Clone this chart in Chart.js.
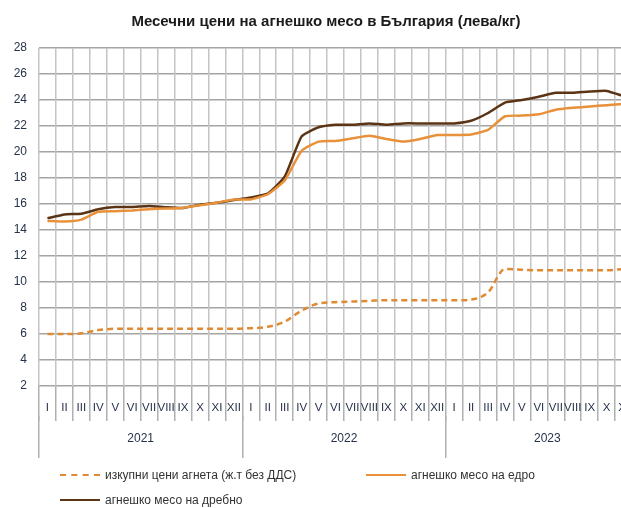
<!DOCTYPE html>
<html>
<head>
<meta charset="utf-8">
<script src="https://cdn.jsdelivr.net/npm/chart.js@4.4.1/dist/chart.umd.min.js"></script>
<style>
  html, body { margin: 0; padding: 0; background: #fff; overflow: hidden; }
  #frame { position: relative; width: 621px; height: 508px; overflow: hidden; }
  #wrap { position: absolute; left: 0; top: 0; width: 655px; height: 508px; }
  .leg { position: absolute; font: 12px 'Liberation Sans Narrow', 'Arial Narrow', 'Liberation Sans', sans-serif; color: #333; white-space: nowrap; }
  .leg span.line { display: inline-block; width: 40px; height: 0; vertical-align: middle; margin-right: 5px; position: relative; top: -1px; }
</style>
</head>
<body>
<div id="frame">
  <div id="wrap"><canvas id="myChart"></canvas></div>
  <div id="legend"></div>
</div>
<script>
const months = ['I','II','III','IV','V','VI','VII','VIII','IX','X','XI','XII'];
const years = ['2021','2022','2023'];

// изкупни цени агнета (ж.т без ДДС)
const purchase = [6.0,6.0,6.05,6.3,6.4,6.4,6.4,6.4,6.4,6.4,6.4,6.4,
                  6.45,6.55,6.95,7.8,8.35,8.45,8.5,8.55,8.6,8.6,8.6,8.6,
                  8.6,8.65,9.2,11.0,10.95,10.9,10.9,10.9,10.9,10.9,11.0,null];
// агнешко месо на едро
const wholesale = [14.7,14.65,14.8,15.4,15.45,15.5,15.6,15.65,15.7,15.9,16.1,16.35,
                   16.35,16.75,17.8,20.1,20.8,20.85,21.05,21.25,21.0,20.8,21.0,21.3,
                   21.3,21.35,21.7,22.75,22.8,22.9,23.25,23.4,23.5,23.6,23.7,null];
// агнешко месо на дребно
const retail = [14.9,15.2,15.25,15.6,15.77,15.77,15.85,15.75,15.7,15.95,16.1,16.3,
                16.5,16.8,18.1,21.2,21.9,22.1,22.1,22.2,22.1,22.2,22.2,22.2,
                22.2,22.4,23.0,23.8,24.0,24.25,24.55,24.55,24.65,24.7,24.3,null];

const seriesNames = ['изкупни цени агнета (ж.т без ДДС)','агнешко месо на едро','агнешко месо на дребно'];
const yTicks = [2,4,6,8,10,12,14,16,18,20,22,24,26,28];

const labels = [];
for (const y of years) for (const m of months) labels.push(m);

const font = "'Liberation Sans Narrow', 'Arial Narrow', 'Liberation Sans', sans-serif";
const tickColor = '#26324a';

const ctx = document.getElementById('myChart');
const myChart = new Chart(ctx, {
    type: 'line',
    data: {
        labels: labels,
        datasets: [{
            label: seriesNames[0],
            data: purchase,
            borderColor: '#e08a33',
            borderWidth: 2.5,
            borderDash: [6, 4],
            cubicInterpolationMode: 'monotone',
            pointRadius: 0
        }, {
            label: seriesNames[1],
            data: wholesale,
            borderColor: '#e8913a',
            borderWidth: 2.5,
            tension: 0.15,
            pointRadius: 0
        }, {
            label: seriesNames[2],
            data: retail,
            borderColor: '#5a3415',
            borderWidth: 2.5,
            tension: 0.15,
            pointRadius: 0
        }]
    },
    options: {
        responsive: true,
        maintainAspectRatio: false,
        animation: false,
        layout: { padding: { left: 3, right: 6, top: 0, bottom: 62 } },
        plugins: {
            legend: { display: false },
            tooltip: { enabled: false },
            title: {
                display: true,
                text: 'Месечни цени на агнешко месо в България (лева/кг)',
                color: '#1a1a1a',
                font: { family: font, size: 15, weight: 'bold' },
                padding: { top: 13, bottom: 17 }
            }
        },
        scales: {
            y: {
                min: 2,
                max: 28,
                afterBuildTicks: s => { s.ticks = yTicks.map(v => ({ value: v })); },
                afterFit: s => { s.width = 36; },
                ticks: { color: tickColor, font: { family: font, size: 12 }, padding: 12 },
                grid: { color: '#a3a3a3', lineWidth: 1.5, drawTicks: false },
                border: { display: false }
            },
            x: {
                offset: true,
                afterFit: s => { s.height = 30; },
                ticks: { color: tickColor, font: { family: font, size: 11.5 }, autoSkip: false, maxRotation: 0, padding: -20 },
                grid: { offset: true, color: '#c4c4c4', lineWidth: 1.5, tickLength: 35, tickColor: '#b0b0b0' },
                border: { display: false }
            },
            x2: {
                type: 'category',
                labels: years,
                position: 'bottom',
                offset: true,
                afterFit: s => { s.height = 30; },
                ticks: { color: tickColor, font: { family: font, size: 12 }, maxRotation: 0, padding: -27 },
                grid: { offset: true, drawOnChartArea: false, tickLength: 42, color: '#b0b0b0', lineWidth: 1.5 },
                border: { display: false }
            }
        }
    }
});

// legend laid out like the original
const legendItems = [
    { i: 0, x: 60, y: 468, style: '2.5px dashed #e08a33' },
    { i: 1, x: 366, y: 468, style: '2.5px solid #e8913a' },
    { i: 2, x: 60, y: 493, style: '2.5px solid #5a3415' }
];
const legendEl = document.getElementById('legend');
for (const it of legendItems) {
    const d = document.createElement('div');
    d.className = 'leg';
    d.style.left = it.x + 'px';
    d.style.top = it.y + 'px';
    d.innerHTML = `<span class="line" style="border-top:${it.style}"></span>${seriesNames[it.i]}`;
    legendEl.appendChild(d);
}
</script>
</body>
</html>
